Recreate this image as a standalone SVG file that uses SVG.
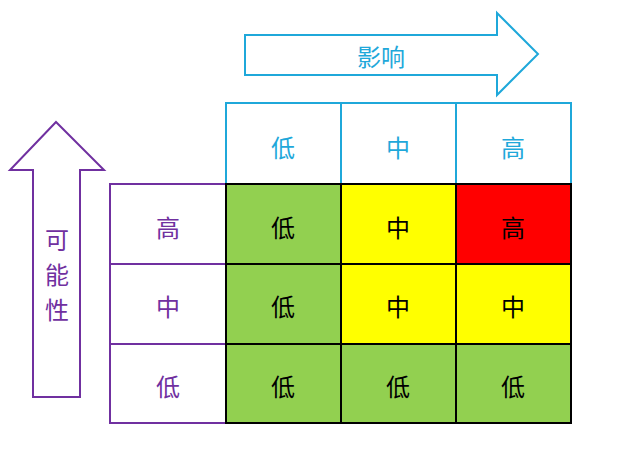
<svg xmlns="http://www.w3.org/2000/svg" width="621" height="456" viewBox="0 0 621 456">
<style>
text{font-family:"Noto Sans CJK SC","Noto Sans CJK JP",sans-serif;font-size:24px;text-anchor:middle;dominant-baseline:central}
.h rect{fill:#fff;stroke:#1fa8da;stroke-width:2}
.h text{fill:#1fa8da}
.l rect{fill:#fff;stroke:#7030a0;stroke-width:2}
.l text{fill:#7030a0}
.c rect{stroke:#000;stroke-width:2}
.c text{fill:#000}
.g{fill:#92d050}.y{fill:#ffff00}.r{fill:#ff0000}
</style>
<g id="impact-arrow">
<path d="M245,35 H497 V13 L538,54 L497,95 V75 H245 Z" fill="#fff" stroke="#1fa8da" stroke-width="2"/>
<text x="381" y="55" fill="#1fa8da">影响</text>
</g>
<g id="likelihood-arrow">
<path d="M56,122 L104,170 H80 V397 H33 V170 H10 Z" fill="#fff" stroke="#7030a0" stroke-width="2"/>
<text x="57" y="238" fill="#7030a0">可</text>
<text x="57" y="273" fill="#7030a0">能</text>
<text x="57" y="308" fill="#7030a0">性</text>
</g>
<g id="header" class="h">
<rect x="226" y="103" width="115" height="81"/><text x="283" y="146">低</text>
<rect x="341" y="103" width="115" height="81"/><text x="398" y="146">中</text>
<rect x="456" y="103" width="115" height="81"/><text x="513" y="146">高</text>
</g>
<g id="rows" class="l">
<rect x="110" y="184" width="116" height="80"/><text x="168" y="226">高</text>
<rect x="110" y="264" width="116" height="80"/><text x="168" y="305">中</text>
<rect x="110" y="344" width="116" height="79"/><text x="168" y="385">低</text>
</g>
<g id="cells" class="c">
<rect class="g" x="226" y="184" width="115" height="80"/><text x="283" y="226">低</text>
<rect class="y" x="341" y="184" width="115" height="80"/><text x="398" y="226">中</text>
<rect class="r" x="456" y="184" width="115" height="80"/><text x="513" y="226">高</text>
<rect class="g" x="226" y="264" width="115" height="80"/><text x="283" y="305">低</text>
<rect class="y" x="341" y="264" width="115" height="80"/><text x="398" y="305">中</text>
<rect class="y" x="456" y="264" width="115" height="80"/><text x="513" y="305">中</text>
<rect class="g" x="226" y="344" width="115" height="79"/><text x="283" y="385">低</text>
<rect class="g" x="341" y="344" width="115" height="79"/><text x="398" y="385">低</text>
<rect class="g" x="456" y="344" width="115" height="79"/><text x="513" y="385">低</text>
</g>
</svg>
